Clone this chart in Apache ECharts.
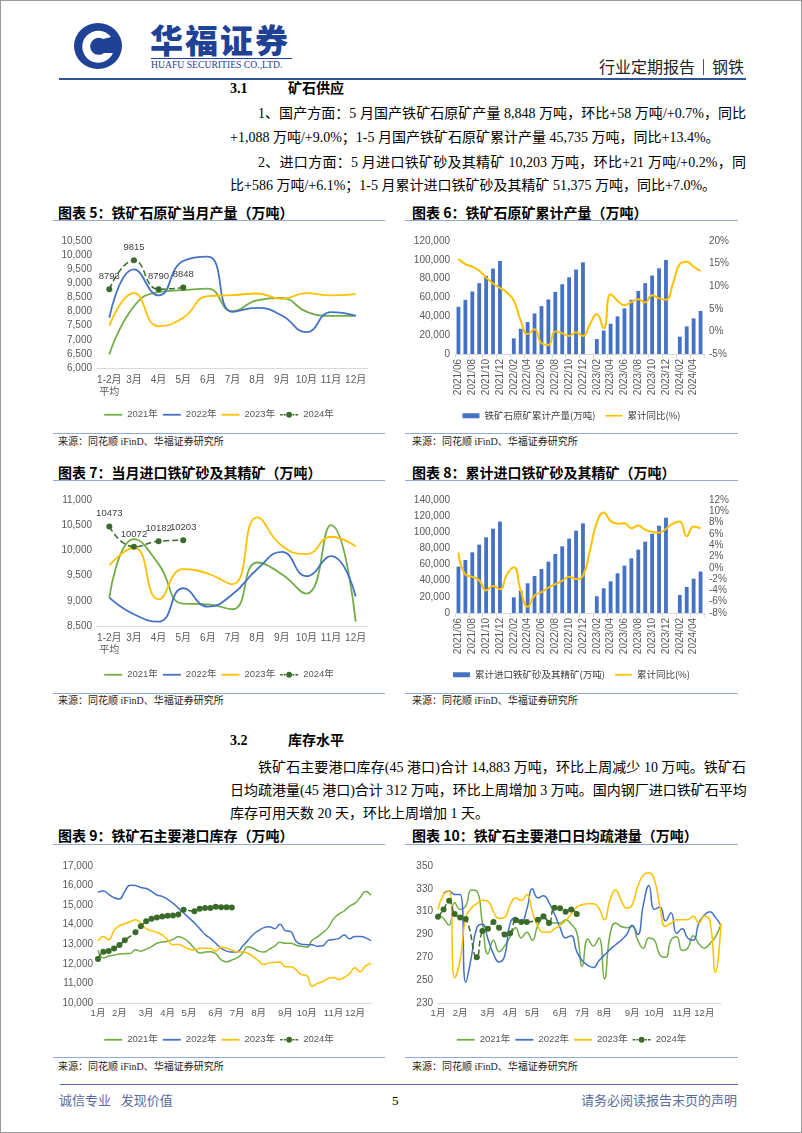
<!DOCTYPE html>
<html><head><meta charset="utf-8">
<script src="https://cdn.jsdelivr.net/npm/echarts/dist/echarts.min.js"></script>
<style>
html,body{margin:0;padding:0;background:#fff;}
#page{position:relative;width:802px;height:1133px;overflow:hidden;font-family:"Liberation Serif","Noto Sans CJK SC",serif;color:#000;box-sizing:border-box;border:1px solid #9a9a9a;}
.abs{position:absolute;white-space:nowrap;}
.hl{position:absolute;height:0;}
.p{position:absolute;left:229px;width:516px;font-size:14px;line-height:20px;white-space:nowrap;}
.j{text-align:justify;text-align-last:justify;}
.ind{text-indent:28px;}
.ttl{position:absolute;font-family:"Noto Sans CJK SC",sans-serif;font-weight:bold;font-size:14px;line-height:18px;white-space:nowrap;}
.src{position:absolute;font-size:10px;line-height:12px;white-space:nowrap;color:#222;}
.chart{position:absolute;}
.sec{position:absolute;font-family:"Liberation Serif","Noto Sans CJK SC",serif;font-weight:bold;font-size:14px;line-height:18px;}
</style></head>
<body><div id="page">
<svg class="abs" style="left:72px;top:21px" width="50" height="48" viewBox="0 0 50 48">
 <ellipse cx="25" cy="24" rx="24" ry="23" fill="#1f4196"/>
 <path d="M38 15 A16 16 0 1 0 40 31 L31 31 A8.5 8.5 0 1 1 30 17 Z" fill="#fff"/>
 <path d="M25 17 L32 24 L25 31 L18 24 Z" fill="#1f4196"/>
</svg>
<div class="abs" style="left:149px;top:18px;font-family:'Noto Sans CJK SC',sans-serif;font-weight:900;font-size:33px;line-height:40px;color:#1f4196;letter-spacing:2px;">华福证券</div>
<div class="hl" style="left:150px;top:57px;width:141px;border-top:1px solid #1f4196;"></div>
<div class="abs" style="left:150px;top:58px;font-size:10.5px;line-height:12px;color:#1f4196;transform:scaleX(0.92);transform-origin:left;">HUAFU SECURITIES CO.,LTD.</div>
<div class="abs" style="right:57px;top:55px;font-family:'Noto Sans CJK SC',sans-serif;font-size:16px;line-height:20px;color:#222;">行业定期报告<span style="display:inline-block;width:1px;height:16px;background:#555;margin:0 8px;vertical-align:-2px;"></span>钢铁</div>
<div class="hl" style="left:58px;top:77px;width:687px;border-top:2px solid #2f5597;"></div>

<div class="sec" style="left:229px;top:79px;">3.1</div>
<div class="sec" style="left:287px;top:79px;">矿石供应</div>
<div class="p j ind" style="top:103px;">1、国产方面：5 月国产铁矿石原矿产量 8,848 万吨，环比+58 万吨/+0.7%，同比</div>
<div class="p" style="top:127px;">+1,088 万吨/+9.0%；1-5 月国产铁矿石原矿累计产量 45,735 万吨，同比+13.4%。</div>
<div class="p j ind" style="top:152px;">2、进口方面：5 月进口铁矿砂及其精矿 10,203 万吨，环比+21 万吨/+0.2%，同</div>
<div class="p" style="top:175px;">比+586 万吨/+6.1%；1-5 月累计进口铁矿砂及其精矿 51,375 万吨，同比+7.0%。</div>

<div class="ttl" style="left:57px;top:202px;">图表 5：铁矿石原矿当月产量（万吨）</div>
<div class="ttl" style="left:411px;top:202px;">图表 6：铁矿石原矿累计产量（万吨）</div>
<div class="hl" style="left:52px;top:219px;width:332px;border-top:1.5px solid #8faadc;"></div>
<div class="hl" style="left:404px;top:219px;width:333px;border-top:1.5px solid #8faadc;"></div>
<div class="hl" style="left:52px;top:432px;width:332px;border-top:1.5px solid #8faadc;"></div>
<div class="hl" style="left:404px;top:432px;width:333px;border-top:1.5px solid #8faadc;"></div>
<div class="src" style="left:57px;top:435px;">来源：同花顺 iFinD、华福证券研究所</div>
<div class="src" style="left:411px;top:435px;">来源：同花顺 iFinD、华福证券研究所</div>

<div class="ttl" style="left:57px;top:462px;">图表 7：当月进口铁矿砂及其精矿（万吨）</div>
<div class="ttl" style="left:411px;top:462px;">图表 8：累计进口铁矿砂及其精矿（万吨）</div>
<div class="hl" style="left:52px;top:479px;width:332px;border-top:1.5px solid #8faadc;"></div>
<div class="hl" style="left:404px;top:479px;width:333px;border-top:1.5px solid #8faadc;"></div>
<div class="hl" style="left:52px;top:692px;width:332px;border-top:1.5px solid #8faadc;"></div>
<div class="hl" style="left:404px;top:692px;width:333px;border-top:1.5px solid #8faadc;"></div>
<div class="src" style="left:57px;top:694px;">来源：同花顺 iFinD、华福证券研究所</div>
<div class="src" style="left:411px;top:694px;">来源：同花顺 iFinD、华福证券研究所</div>

<div class="sec" style="left:229px;top:731px;">3.2</div>
<div class="sec" style="left:287px;top:731px;">库存水平</div>
<div class="p j ind" style="top:757px;">铁矿石主要港口库存(45 港口)合计 14,883 万吨，环比上周减少 10 万吨。铁矿石</div>
<div class="p j" style="top:780px;">日均疏港量(45 港口)合计 312 万吨，环比上周增加 3 万吨。国内钢厂进口铁矿石平均</div>
<div class="p" style="top:803px;">库存可用天数 20 天，环比上周增加 1 天。</div>

<div class="ttl" style="left:57px;top:825px;">图表 9：铁矿石主要港口库存（万吨）</div>
<div class="ttl" style="left:411px;top:825px;">图表 10：铁矿石主要港口日均疏港量（万吨）</div>
<div class="hl" style="left:52px;top:843px;width:332px;border-top:1.5px solid #8faadc;"></div>
<div class="hl" style="left:404px;top:843px;width:333px;border-top:1.5px solid #8faadc;"></div>
<div class="hl" style="left:52px;top:1056px;width:332px;border-top:1.5px solid #8faadc;"></div>
<div class="hl" style="left:404px;top:1056px;width:333px;border-top:1.5px solid #8faadc;"></div>
<div class="src" style="left:57px;top:1060px;">来源：同花顺 iFinD、华福证券研究所</div>
<div class="src" style="left:411px;top:1060px;">来源：同花顺 iFinD、华福证券研究所</div>

<div class="hl" style="left:59px;top:1083px;width:678px;border-top:1.5px solid #4a6aa8;"></div>
<div class="abs" style="left:58px;top:1091px;font-size:13px;line-height:18px;color:#5b6aa0;">诚信专业&nbsp;&nbsp;&nbsp;发现价值</div>
<div class="abs" style="left:391px;top:1091px;font-size:13px;line-height:18px;color:#000;">5</div>
<div class="abs" style="right:64px;top:1091px;font-size:13px;line-height:18px;color:#5b6aa0;">请务必阅读报告末页的声明</div>

<div id="c5" class="chart" style="left:52px;top:222px;width:332px;height:208px;"></div>
<div id="c6" class="chart" style="left:404px;top:222px;width:333px;height:208px;"></div>
<div id="c7" class="chart" style="left:52px;top:481px;width:332px;height:210px;"></div>
<div id="c8" class="chart" style="left:404px;top:481px;width:333px;height:210px;"></div>
<div id="c9" class="chart" style="left:52px;top:845px;width:332px;height:210px;"></div>
<div id="c10" class="chart" style="left:404px;top:845px;width:333px;height:210px;"></div>
</div>
<script>
// ---------- data ----------
const yearNames = ['2021年','2022年','2023年','2024年'];
const monthCats = ['1-2月\n平均','3月','4月','5月','6月','7月','8月','9月','10月','11月','12月'];
// 图表5 铁矿石原矿当月产量
const dom2021 = [6480,8190,8690,8760,8810,8010,8400,8480,8000,7850,7850];
const dom2022 = [7780,9495,8570,9790,9945,7990,8130,7860,7270,7980,7860];
const dom2023 = [7500,8650,7480,7780,8550,8580,8640,8450,8650,8570,8620];
const dom2024 = [8793,9815,8790,8848];
// 图表7 当月进口铁矿砂及其精矿
const imp2021 = [9064,10224,9727,8944,8931,8832,9760,9528,9143,10503,8586];
const imp2022 = [9064,8732,8586,9249,8885,9130,9627,9972,9488,9886,9084];
const imp2023 = [9707,10058,9030,9627,9541,9329,10655,10092,9926,10271,10078];
const imp2024 = [10473,10072,10182,10203];
// 图表6/8 月度累计
const cumMonths = ['2021/06','2021/07','2021/08','2021/09','2021/10','2021/11','2021/12',
 '2022/01','2022/02','2022/03','2022/04','2022/05','2022/06','2022/07','2022/08','2022/09','2022/10','2022/11','2022/12',
 '2023/01','2023/02','2023/03','2023/04','2023/05','2023/06','2023/07','2023/08','2023/09','2023/10','2023/11','2023/12',
 '2024/01','2024/02','2024/03','2024/04','2024/05'];
const oreCum = [50100,57500,66400,75200,83000,90700,98800, null,16600,26800,33900,43000,50800,57900,66000,74100,81500,89700,97400, null,15900,25000,32100,39900,48400,57500,67000,75200,83300,91000,99900, null,18400,29300,37800,45735];
const oreCumYoy = [16.0,14.9,14.3,13.4,11.9,10.6,9.6, 8.6,6.8,2.4,-0.6,0.5,-2.6,-3.0,0.0,-0.4,-1.0,-0.2,-1.0, 1.6,3.8,0.7,8.2,6.8,5.8,6.5,7.1,6.4,8.0,7.3,7.0, 10.5,14.9,15.4,14.3,13.4];
const impCum = [57400,65700,75200,84700,93800,104500,113200, null,19400,27700,36800,45800,54500,63600,73100,82600,92100,102000,111100, null,20700,30600,39200,49200,58700,67700,78500,88400,98300,108200,118100, null,22300,32200,42500,51375];
const impCumYoy = [2.7,-1.2,-1.6,-2.2,-4.0,-3.2,-3.8, -1.2,0.1,-4.0,-6.9,-4.9,-4.3,-3.5,-2.9,-2.3,-1.6,-2.0,-1.4, 3.0,8.0,9.8,8.3,7.8,7.9,7.0,7.5,6.7,6.4,6.2,6.9, 7.8,8.2,5.6,7.3,7.0];
// 图表9/10 周度（第0-51周），月份刻度所在周
const monthTickWeeks = [0,4,9,13,17,22,26,30,35,39,44,48];
const monthTickNames = ['1月','2月','3月','4月','5月','6月','7月','8月','9月','10月','11月','12月'];
const inv2021 = [12700,12300,12400,12450,12500,12520,12530,12720,12650,12750,12880,13050,13120,13150,13250,13380,13300,13100,12800,12550,12600,12620,12520,12200,12100,12200,12300,12540,12880,12800,12650,12600,12750,12900,13100,13050,13050,12950,12900,12850,13200,13380,13600,13850,14300,14550,14700,14950,15100,15400,15700,15500];
const inv2022 = [15650,15720,15550,15380,15320,15700,16020,16000,15900,15850,15700,15520,15450,15300,15100,14850,14600,14350,14100,13800,13500,13300,13050,12800,12650,12600,12620,12900,13200,13500,13700,13850,13900,13800,14020,13700,13650,13150,13000,12980,12970,12900,12920,13200,13250,13300,13480,13280,13400,13400,13330,13180];
const inv2023 = [13180,13400,13230,13700,13950,14050,14150,14250,14080,13800,13700,13600,13480,13230,12970,13000,12880,12750,12710,12800,12800,12780,12660,12850,12800,12700,12620,12600,12540,12370,12150,11970,12050,12070,12100,11850,11850,11700,11450,11400,10850,11000,11100,11250,11300,11200,11300,11500,11800,11600,11900,12000];
const inv2024 = [12250,12620,12660,12790,12960,13200,null,13620,13920,14180,14300,14370,14420,14460,14470,14520,14770,null,14690,14820,14850,14860,14920,14890,14893,14883];
const clr2021 = [308,304,298,318,312,315,329,328,300,273,285,275,280,288,296,287,292,285,298,304,302,300,300,303,299,292,262,286,280,287,251,290,300,297,296,297,285,278,287,285,272,270,285,288,276,278,289,282,278,282,288,299];
const clr2022 = [null,326,328,325,325,248,270,296,299,286,273,266,271,300,305,301,312,330,322,324,318,308,296,287,289,275,267,263,261,267,272,277,281,285,290,298,290,316,333,312,314,302,309,291,295,287,285,300,307,310,305,298];
const clr2023 = [312,325,328,252,268,305,313,317,320,319,310,304,305,316,322,320,325,310,297,292,292,295,298,302,308,314,316,317,317,313,303,320,329,320,313,316,332,342,344,338,314,297,300,303,303,303,306,300,306,302,257,300];
const clr2024 = [305.5,312,319.5,308,305,303.5,null,270,293,295,301,296,290,291,302.5,301,301,null,303,306,300,313.5,313,310,312,308];

// ---------- styles ----------
const FONT = '"Liberation Sans","Noto Sans CJK SC",sans-serif';
const CJK = '"Noto Sans CJK SC",sans-serif';
const COL = ['#70ad47','#4472c4','#ffc000','#3b6b2b'];
const LAB = '#595959', AXL = '#d9d9d9';
const thousands = v => String(v).replace(/\B(?=(\d{3})+(?!\d))/g, ',');
const ICON_LINE = 'path://M0,0H20V2H0Z';
const ICON_DASHDOT = 'path://M0,3.3H3V4.7H0Z M4.2,3.3H6.4V4.7H4.2Z M13.6,3.3H15.8V4.7H13.6Z M17,3.3H20V4.7H17Z M6.8,4A3.2,3.2 0 1,0 13.2,4A3.2,3.2 0 1,0 6.8,4Z';

function legendCfg(top){
  return {top, left:'center', itemWidth:18, itemHeight:7, itemGap:5, symbolKeepAspect:true,
    data:yearNames.map((n,i)=>({name:n,icon:i<3?ICON_LINE:ICON_DASHDOT})),
    textStyle:{fontSize:9.5,color:LAB,fontFamily:FONT}};
}
function valAxis(min,max,interval,fmt,extra){
  return Object.assign({type:'value',min,max,interval,splitLine:{show:false},axisLine:{show:false},axisTick:{show:false},
    axisLabel:{color:LAB,fontSize:10,fontFamily:FONT,margin:5,formatter:fmt}},extra||{});
}
function yearLines(arrs, width, xy){
  return arrs.map((d,i)=>({name:yearNames[i],type:'line',data:xy?d.map((v,k)=>[k,v]):d,smooth:true,symbol:'none',
    lineStyle:{color:COL[i],width},itemStyle:{color:COL[i]},z:2}));
}
function dots(d, size, withLabel, xy){
  const s = {name:yearNames[3],type:'line',data:xy?d.map((v,k)=>[k,v]):d,smooth:true,symbol:'circle',symbolSize:size,connectNulls:true,
    showSymbol:true,showAllSymbol:true,
    lineStyle:{color:COL[3],width:1.5,type:'dashed'},itemStyle:{color:COL[3]},z:3};
  if(withLabel) s.label={show:true,position:'top',distance:5,color:'#404040',fontSize:9.5,fontFamily:FONT};
  return s;
}
function monthlyChart(id, arrs, d24, min, max, gridBottom, legendTop){
  const ch = echarts.init(document.getElementById(id));
  ch.setOption({animation:false,
    grid:{left:44,right:17,top:18,bottom:gridBottom,outerBoundsMode:'none'},
    legend:legendCfg(legendTop),
    xAxis:{type:'category',data:monthCats,boundaryGap:true,axisLine:{lineStyle:{color:AXL}},axisTick:{show:false},
      axisLabel:{color:LAB,fontSize:10,fontFamily:FONT,interval:0,margin:6,lineHeight:12,hideOverlap:false}},
    yAxis:valAxis(min,max,500,thousands),
    series:[...yearLines(arrs,1.8,false), dots(d24,6,true,false)]
  });
}
function cumChart(id, bars, yoy, barName, lmin,lmax,lint, rmin,rmax,rint, gridBottom, legendTop){
  const ch = echarts.init(document.getElementById(id));
  ch.setOption({animation:false,
    grid:{left:50,right:34,top:18,bottom:gridBottom,outerBoundsMode:'none'},
    legend:{top:legendTop,left:'center',itemGap:10,textStyle:{fontSize:9.5,color:'#404040',fontFamily:CJK},
      data:[{name:barName,icon:'rect'},{name:'累计同比(%)',icon:ICON_LINE}],itemWidth:17,itemHeight:5},
    xAxis:{type:'category',data:cumMonths,boundaryGap:true,axisLine:{lineStyle:{color:AXL}},
      axisTick:{show:true,interval:1,length:4,lineStyle:{color:AXL}},
      axisLabel:{color:LAB,fontSize:10,fontFamily:FONT,interval:1,rotate:90,margin:5,hideOverlap:false}},
    yAxis:[valAxis(lmin,lmax,lint,thousands), valAxis(rmin,rmax,rint,'{value}%',{position:'right'})],
    series:[
      {name:barName,type:'bar',data:bars,barWidth:'55%',itemStyle:{color:'#4472c4'},yAxisIndex:0},
      {name:'累计同比(%)',type:'line',data:yoy,yAxisIndex:1,smooth:true,symbol:'none',connectNulls:true,
        lineStyle:{color:'#ffc000',width:2},itemStyle:{color:'#ffc000'}}
    ]
  });
}
function weeklyChart(id, arrs, d24, min, max, interval, fmt, gridLeft, gridRight){
  const ch = echarts.init(document.getElementById(id));
  ch.setOption({animation:false,
    grid:{left:gridLeft,right:gridRight,top:20,bottom:53,outerBoundsMode:'none'},
    legend:legendCfg(184),
    xAxis:{type:'value',min:0,max:51,splitLine:{show:false},axisLine:{show:true,lineStyle:{color:AXL}},axisTick:{show:false},
      axisLabel:{show:false}},
    yAxis:valAxis(min,max,interval,fmt),
    series:[...yearLines(arrs,1.5,true), dots(d24,6,false,true)]
  });
  // month tick labels placed through the chart's own x scale
  const axisY = ch.convertToPixel({yAxisIndex:0}, min);
  ch.setOption({graphic:monthTickWeeks.map((w,k)=>({type:'text',silent:true,
    x:ch.convertToPixel({xAxisIndex:0}, w), y:axisY+6,
    style:{text:monthTickNames[k],align:'center',verticalAlign:'top',fill:LAB,font:'9.5px '+FONT}}))});
}

monthlyChart('c5',[dom2021,dom2022,dom2023],dom2024,6000,10500,63,182);
monthlyChart('c7',[imp2021,imp2022,imp2023],imp2024,8500,11000,66,183);
cumChart('c6',oreCum,oreCumYoy,'铁矿石原矿累计产量(万吨)',0,120000,20000,-5,20,5,77,183);
cumChart('c8',impCum,impCumYoy,'累计进口铁矿砂及其精矿(万吨)',0,140000,20000,-8,12,2,79,183);
weeklyChart('c9',[inv2021,inv2022,inv2023],inv2024,10000,17000,1000,thousands,45,14);
weeklyChart('c10',[clr2021,clr2022,clr2023],clr2024,230,350,20,'{value}',33,17);
</script>
</body></html>
